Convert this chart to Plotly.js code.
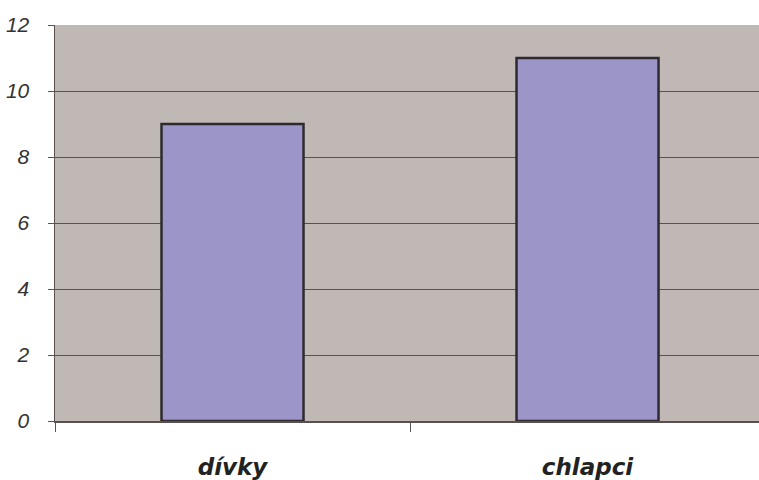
<!DOCTYPE html>
<html>
<head>
<meta charset="utf-8">
<script src="https://cdn.plot.ly/plotly-3.0.1.min.js"></script>
<style>html,body{margin:0;padding:0;background:#fff;}#chart{width:759px;height:480px;}</style>
</head>
<body>
<div id="chart"></div>
<script>
const categories = ["dívky", "chlapci"];
const counts = [9, 11];
const yTicks = [0, 2, 4, 6, 8, 10, 12];

const trace = {
  type: "bar",
  x: categories,
  y: counts,
  marker: {color: "#9C96C8", line: {color: "#2E2B30", width: 2.5}},
  hoverinfo: "none"
};

const layout = {
  width: 759, height: 480,
  margin: {l: 55, r: 0, t: 25, b: 59},
  paper_bgcolor: "#ffffff",
  plot_bgcolor: "#C0B8B5",
  bargap: 0.6,
  showlegend: false,
  xaxis: {
    type: "category",
    range: [-0.5, 1.483],
    tickson: "boundaries",
    ticks: "outside", ticklen: 9, tickcolor: "#555", tickwidth: 1,
    showline: true, linecolor: "#5A5050", linewidth: 1.5,
    showgrid: false,
    ticklabelstandoff: 25,
    tickfont: {family: "DejaVu Sans, Verdana, sans-serif", size: 23, color: "#222", weight: "bold", style: "italic"}
  },
  yaxis: {
    range: [0, 12],
    tickmode: "array",
    tickvals: yTicks,
    ticktext: yTicks.map(String),
    ticks: "outside", ticklen: 6, tickcolor: "#555", tickwidth: 1,
    showline: true, linecolor: "#5A5050", linewidth: 1.5,
    showgrid: true, gridcolor: "#5A5050", gridwidth: 1,
    zeroline: false,
    automargin: false,
    ticklabelstandoff: 14,
    tickfont: {family: "Arial, Liberation Sans, sans-serif", size: 21, color: "#333", style: "italic", weight: "normal"}
  }
};

Plotly.newPlot("chart", [trace], layout, {displayModeBar: false, staticPlot: true});
</script>
</body>
</html>
